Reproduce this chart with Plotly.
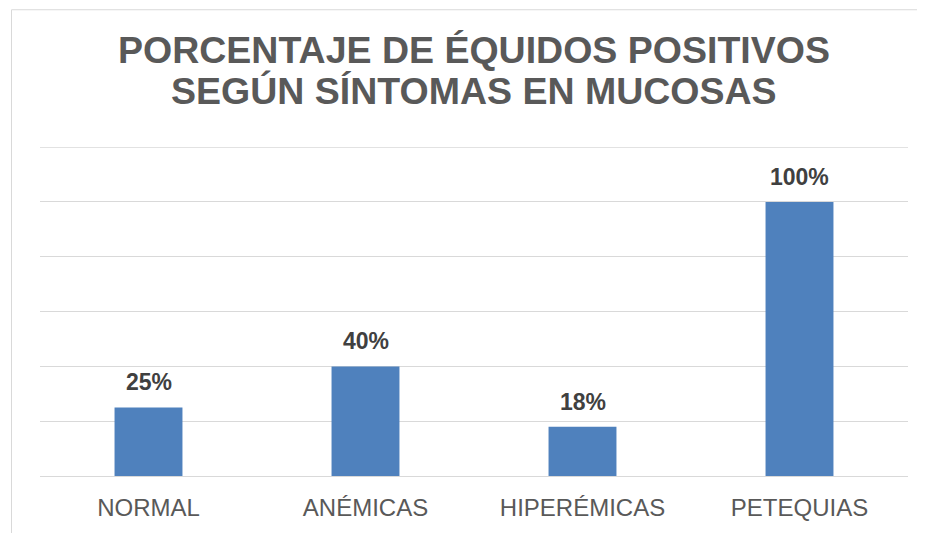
import plotly.graph_objects as go

categories = ["NORMAL", "ANÉMICAS", "HIPERÉMICAS", "PETEQUIAS"]
values = [0.25, 0.40, 0.18, 1.00]
grid_ticks = [0, 0.2, 0.4, 0.6, 0.8, 1.0, 1.2]
title_lines = ["PORCENTAJE DE ÉQUIDOS POSITIVOS", "SEGÚN SÍNTOMAS EN MUCOSAS"]

# page body has an 8px default margin, so the figure is offset by 8px
OFF = 8
W, H = 925 - OFF, 533 - OFF
L, R, T, B = 40 - OFF, 17, 147 - OFF, 54
pw, ph = W - L - R, H - T - B

def px_x(px):
    return (px - OFF - L) / pw

def px_y(py):
    return (H - B - (py - OFF)) / ph

FONT = "Liberation Sans, Arial, sans-serif"
GRID = "#d9d9d9"

fig = go.Figure()
fig.add_trace(go.Bar(
    x=categories, y=values,
    marker=dict(color="#4f81bd", line=dict(width=0)),
    hoverinfo="skip",
))

for c, v in zip(categories, values):
    fig.add_annotation(
        x=c, y=v, xref="x", yref="y",
        text="<b>%d%%</b>" % round(v * 100),
        showarrow=False, yanchor="bottom", yshift=10,
        font=dict(family=FONT, size=23, color="#404040"),
    )

for i, line in enumerate(title_lines):
    fig.add_annotation(
        x=0.5, y=px_y([49, 90][i]), xref="paper", yref="paper",
        text="<b>%s</b>" % line, showarrow=False, yanchor="middle",
        font=dict(family=FONT, size=37.5, color="#595959"),
    )

# top gridline (at the upper end of the axis range)
fig.add_shape(
    type="line", xref="paper", yref="y",
    x0=0, x1=1, y0=grid_ticks[-1], y1=grid_ticks[-1],
    line=dict(color=GRID, width=1.3), layer="below",
)

fig.add_shape(
    type="rect", xref="paper", yref="paper",
    x0=px_x(11.5), x1=px_x(960), y0=px_y(560), y1=px_y(8.5),
    line=dict(color=GRID, width=1), fillcolor="rgba(0,0,0,0)",
    layer="below",
)

fig.update_layout(
    width=W, height=H,
    margin=dict(l=L, r=R, t=T, b=B),
    paper_bgcolor="white", plot_bgcolor="white",
    showlegend=False,
    bargap=0.687,
    font=dict(family=FONT),
    xaxis=dict(
        showgrid=False, showline=False, zeroline=False,
        ticks="outside", ticklen=10, tickcolor="rgba(0,0,0,0)",
        tickfont=dict(family=FONT, size=24, color="#595959"),
        fixedrange=True,
    ),
    yaxis=dict(
        range=[0, 1.2005], tickmode="array", tickvals=grid_ticks,
        showgrid=True, gridcolor=GRID, gridwidth=1.3,
        zeroline=True, zerolinecolor=GRID, zerolinewidth=1.3,
        showticklabels=False, showline=False,
        fixedrange=True,
    ),
)

fig.write_html("out.html")
